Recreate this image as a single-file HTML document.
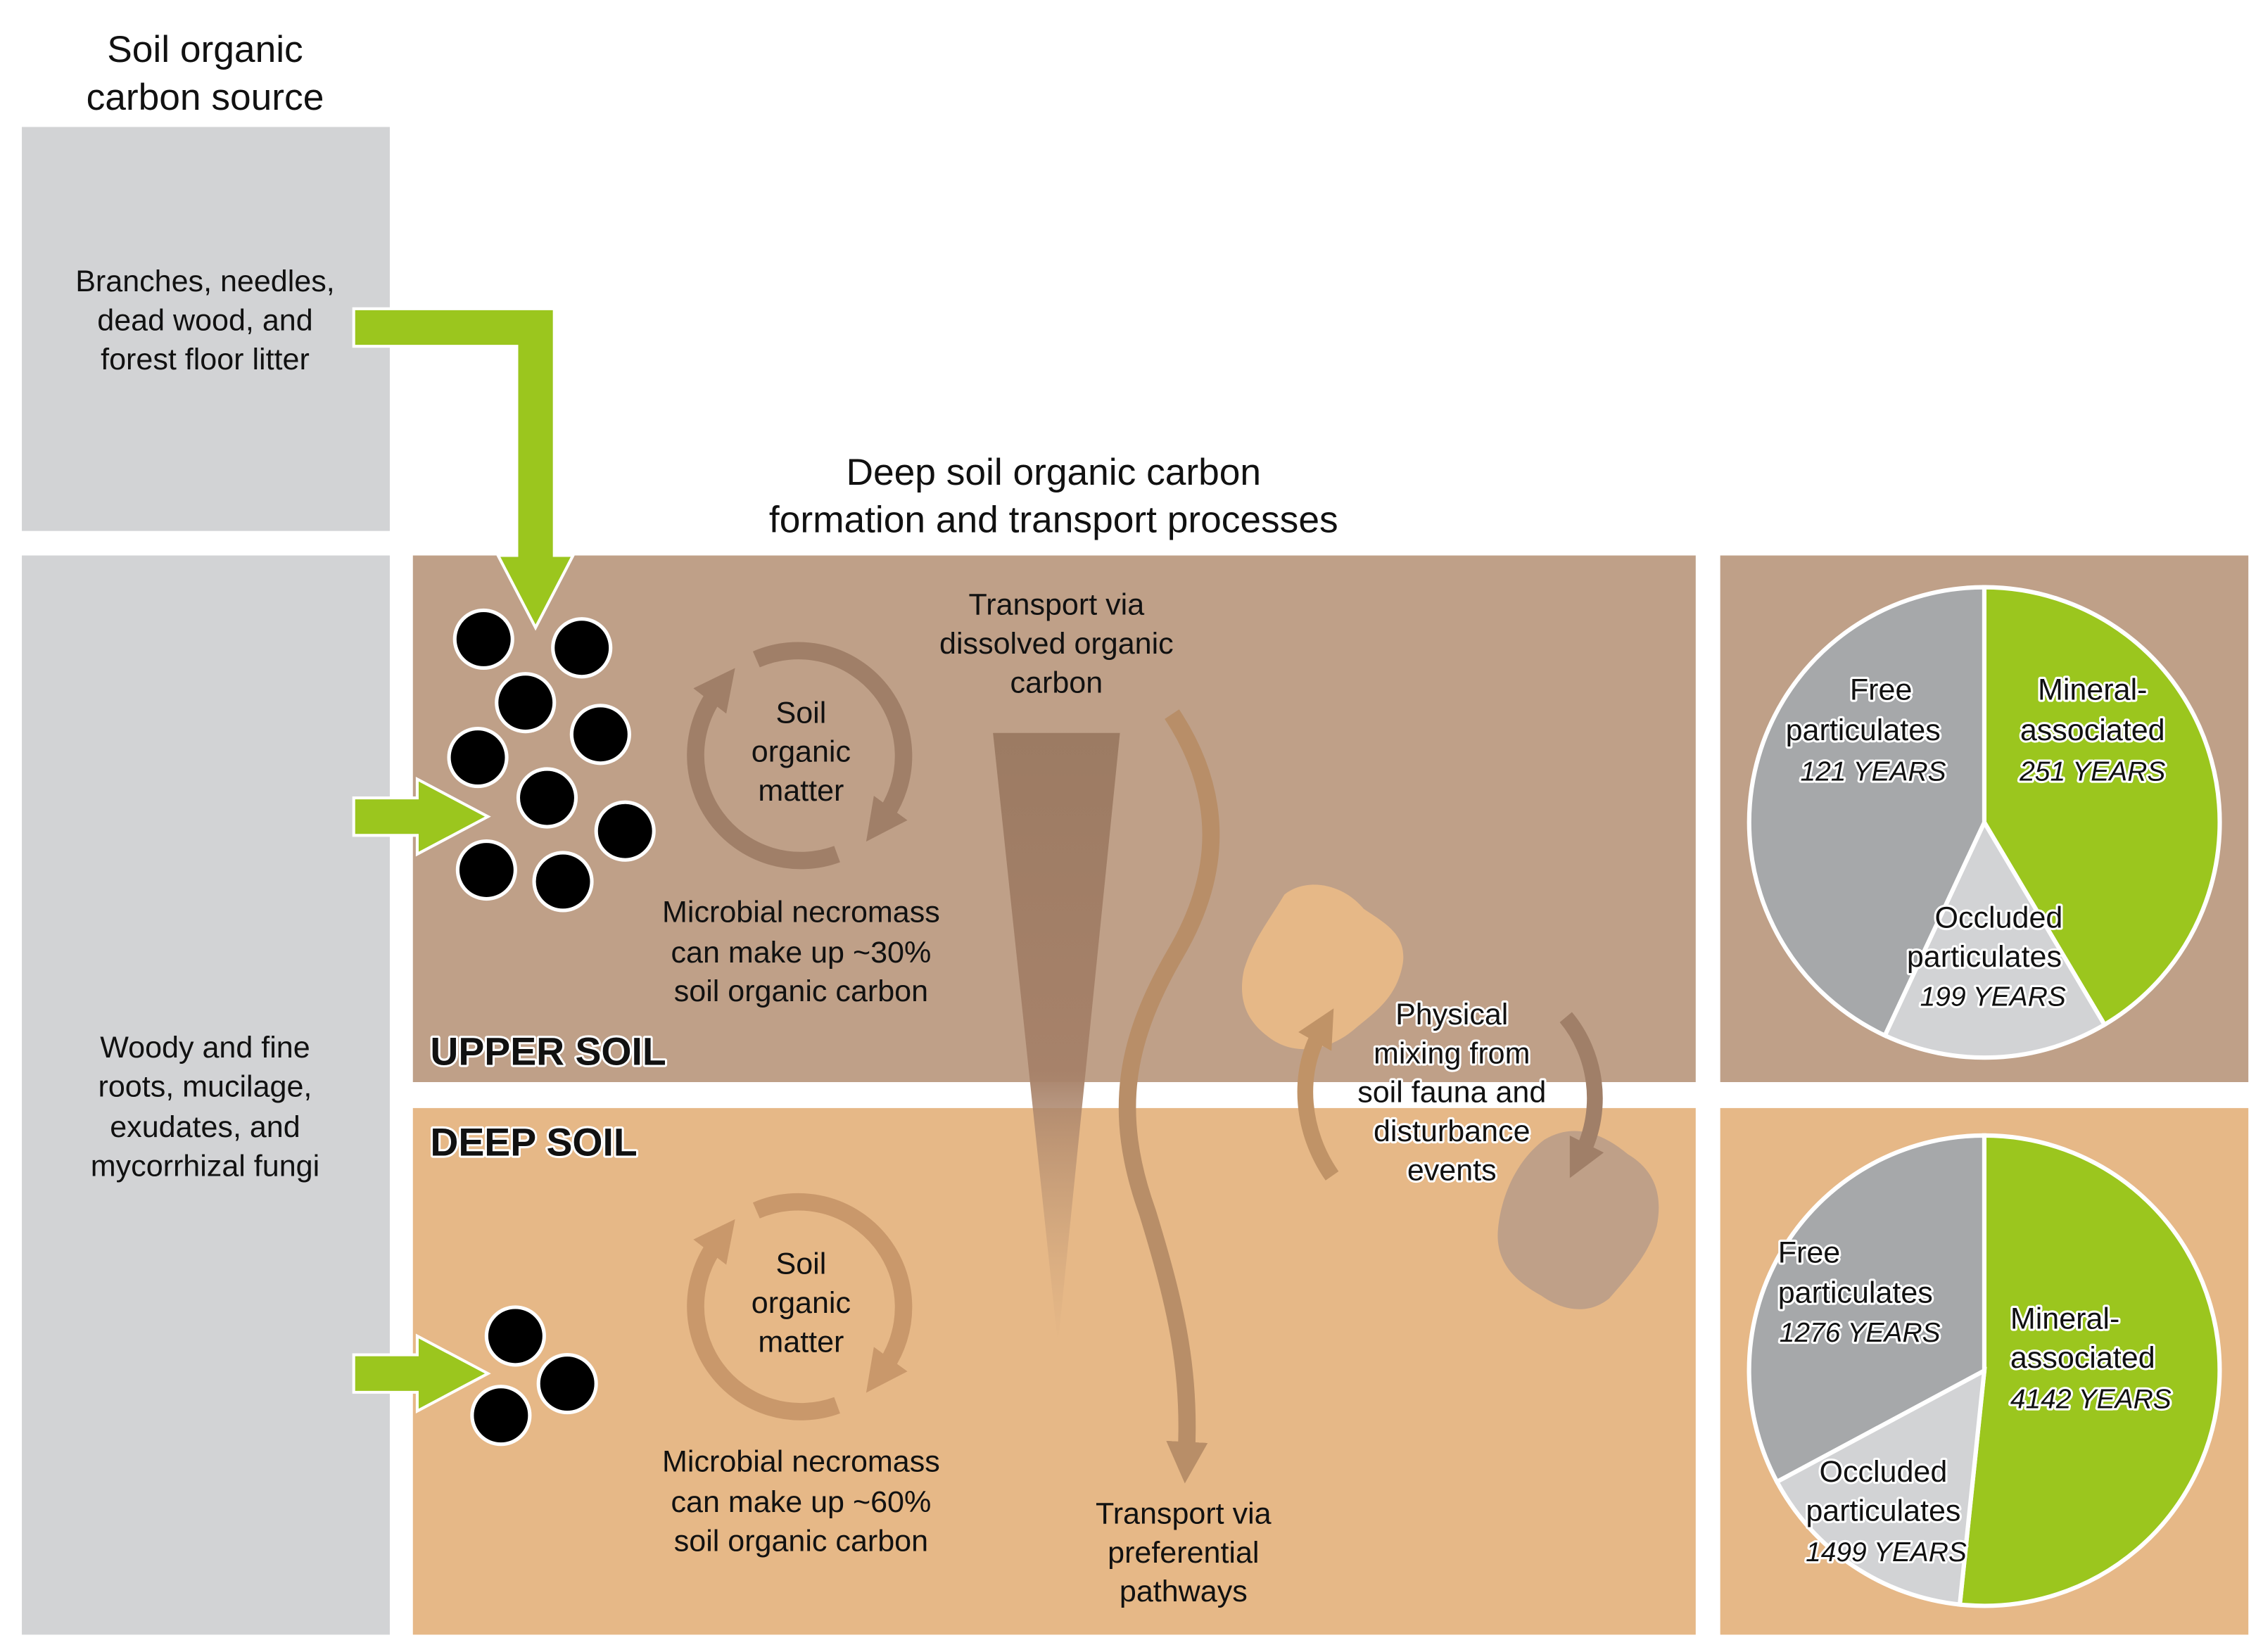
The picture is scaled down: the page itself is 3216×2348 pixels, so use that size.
<!DOCTYPE html>
<html><head><meta charset="utf-8"><style>
html,body{margin:0;padding:0;background:#fff}
svg{display:block}
text{font-family:"Liberation Sans",Arial,sans-serif}
.o{paint-order:stroke;stroke:#fff;stroke-width:3px;stroke-linejoin:round}
</style></head><body>
<svg width="3216" height="2348" viewBox="0 0 1568 1145" xmlns="http://www.w3.org/2000/svg">
<defs>
<marker id="mU" viewBox="0 0 10 10" refX="3" refY="5" markerWidth="2.4" markerHeight="2.4" orient="auto"><path d="M0,0 L10,5 L0,10 z" fill="#a07f68"/></marker>
<marker id="mD" viewBox="0 0 10 10" refX="3" refY="5" markerWidth="2.4" markerHeight="2.4" orient="auto"><path d="M0,0 L10,5 L0,10 z" fill="#c9986b"/></marker>
<marker id="mW" viewBox="0 0 10 10" refX="3" refY="5" markerWidth="2.4" markerHeight="2.4" orient="auto"><path d="M0,0 L10,5 L0,10 z" fill="#b88e68"/></marker>
<marker id="mL" viewBox="0 0 10 10" refX="3" refY="5" markerWidth="2.4" markerHeight="2.4" orient="auto"><path d="M0,0 L10,5 L0,10 z" fill="#c09367"/></marker>
<linearGradient id="fg" x1="0" y1="0" x2="0" y2="1">
<stop offset="0" stop-color="#9c7b63"/><stop offset="0.55" stop-color="#a7826a"/><stop offset="1" stop-color="#c9a07a" stop-opacity="0"/>
</linearGradient>
</defs>
<rect width="1568" height="1145" fill="#fff"/>
<!-- boxes -->
<rect x="15" y="88" width="255" height="280" fill="#d2d3d5"/>
<rect x="15" y="385" width="255" height="748" fill="#d2d3d5"/>
<rect x="286" y="385" width="889" height="365" fill="#bfa088"/>
<rect x="286" y="768" width="889" height="365" fill="#e6b887"/>
<rect x="1192" y="385" width="366" height="365" fill="#bfa088"/>
<rect x="1192" y="768" width="366" height="365" fill="#e6b887"/>
<!-- titles -->
<g font-size="26" text-anchor="middle" fill="#111">
<text x="142" y="43">Soil organic</text><text x="142" y="76">carbon source</text>
<text x="730" y="336">Deep soil organic carbon</text><text x="730" y="369">formation and transport processes</text>
</g>
<g font-size="21" text-anchor="middle" fill="#111">
<text x="142" y="202">Branches, needles,</text><text x="142" y="229">dead wood, and</text><text x="142" y="256">forest floor litter</text>
<text x="142" y="733">Woody and fine</text><text x="142" y="760">roots, mucilage,</text><text x="142" y="788">exudates, and</text><text x="142" y="815">mycorrhizal fungi</text>
</g>
<!-- green arrows -->
<path d="M245,214 L384,214 L384,385 L397,385 L371,435 L345,385 L358,385 L358,240 L245,240 Z" fill="#9bc61e" stroke="#fff" stroke-width="2"/>
<path d="M245,553 L289,553 L289,540 L338,566 L289,592 L289,579 L245,579 Z" fill="#9bc61e" stroke="#fff" stroke-width="2"/>
<path d="M245,939 L289,939 L289,926 L338,952 L289,978 L289,965 L245,965 Z" fill="#9bc61e" stroke="#fff" stroke-width="2"/>
<!-- circles -->
<g fill="#000" stroke="#fff" stroke-width="2.5">
<circle cx="335" cy="443" r="20"/><circle cx="403" cy="449" r="20"/><circle cx="364" cy="487" r="20"/>
<circle cx="416" cy="509" r="20"/><circle cx="331" cy="525" r="20"/><circle cx="379" cy="553" r="20"/>
<circle cx="433" cy="576" r="20"/><circle cx="337" cy="603" r="20"/><circle cx="390" cy="611" r="20"/>
<circle cx="357" cy="926" r="20"/><circle cx="393" cy="959" r="20"/><circle cx="347" cy="981" r="20"/>
</g>
<!-- cycles -->
<g fill="none" stroke-width="12">
<path d="M524,457 A73,73 0 0 1 612,567" stroke="#a07f68" marker-end="url(#mU)"/>
<path d="M580,592 A73,73 0 0 1 497,479" stroke="#a07f68" marker-end="url(#mU)"/>
<path d="M524,839 A73,73 0 0 1 612,949" stroke="#c9986b" marker-end="url(#mD)"/>
<path d="M580,974 A73,73 0 0 1 497,861" stroke="#c9986b" marker-end="url(#mD)"/>
</g>
<g font-size="21" text-anchor="middle" fill="#111">
<text x="555" y="501">Soil</text><text x="555" y="528">organic</text><text x="555" y="555">matter</text>
<text x="555" y="639">Microbial necromass</text><text x="555" y="667">can make up ~30%</text><text x="555" y="694">soil organic carbon</text>
<text x="555" y="883">Soil</text><text x="555" y="910">organic</text><text x="555" y="937">matter</text>
<text x="555" y="1020">Microbial necromass</text><text x="555" y="1048">can make up ~60%</text><text x="555" y="1075">soil organic carbon</text>
<text x="732" y="426">Transport via</text><text x="732" y="453">dissolved organic</text><text x="732" y="480">carbon</text>
<text x="820" y="1056">Transport via</text><text x="820" y="1083">preferential</text><text x="820" y="1110">pathways</text>
</g>
<g font-size="27" font-weight="bold" fill="#111" class="o">
<text x="298" y="738">UPPER SOIL</text><text x="298" y="801">DEEP SOIL</text>
</g>
<!-- funnel -->
<path d="M688,508 L776,508 L733,932 Z" fill="url(#fg)"/>
<!-- wavy -->
<path d="M812,495 C845,545 850,600 815,660 C780,720 770,770 795,840 C815,905 825,950 822,1008" fill="none" stroke="#b88e68" stroke-width="12" marker-end="url(#mW)"/>
<!-- blobs -->
<path d="M890,620 C905,608 930,612 945,630 C960,640 975,648 972,668 C968,690 955,700 940,712 C920,730 895,732 878,718 C862,706 858,690 862,672 C868,652 878,640 890,620 Z" fill="#e6b887"/>
<path d="M1070,790 C1090,778 1110,785 1128,800 C1148,812 1152,830 1148,850 C1142,870 1128,885 1115,900 C1100,912 1082,908 1068,898 C1050,888 1036,875 1038,852 C1040,830 1050,805 1070,790 Z" fill="#bfa088"/>
<!-- mixing arrows -->
<path d="M923,815 C902,785 898,745 915,715" fill="none" stroke="#c09367" stroke-width="11" marker-end="url(#mL)"/>
<path d="M1085,705 C1106,730 1112,768 1096,800" fill="none" stroke="#a07f68" stroke-width="11" marker-end="url(#mU)"/>
<g font-size="21" text-anchor="middle" fill="#111" class="o">
<text x="1006" y="710">Physical</text><text x="1006" y="737">mixing from</text><text x="1006" y="764">soil fauna and</text><text x="1006" y="791">disturbance</text><text x="1006" y="818">events</text>
</g>
<!-- pies -->
<g stroke="#fff" stroke-width="3">
<path d="M1375,570 L1375,407 A163,163 0 0 1 1458.3,710.2 Z" fill="#9bc61e"/>
<path d="M1375,570 L1458.3,710.2 A163,163 0 0 1 1306.1,717.7 Z" fill="#d2d3d5"/>
<path d="M1375,570 L1306.1,717.7 A163,163 0 0 1 1375,407 Z" fill="#a6a8aa"/>
<path d="M1375,950 L1375,787 A163,163 0 1 1 1358,1112.1 Z" fill="#9bc61e"/>
<path d="M1375,950 L1358,1112.1 A163,163 0 0 1 1231.3,1027 Z" fill="#d2d3d5"/>
<path d="M1375,950 L1231.3,1027 A163,163 0 0 1 1375,787 Z" fill="#a6a8aa"/>
</g>
<g font-size="21" fill="#111" class="o">
<g text-anchor="middle">
<text x="1325" y="485" text-anchor="end" x2="0">Free</text>
<text x="1291" y="513">particulates</text>
<text x="1298" y="541" font-style="italic" font-size="19">121 YEARS</text>
<text x="1450" y="485">Mineral-</text><text x="1450" y="513">associated</text>
<text x="1450" y="541" font-style="italic" font-size="19">251 YEARS</text>
<text x="1385" y="643">Occluded</text><text x="1375" y="670">particulates</text>
<text x="1381" y="697" font-style="italic" font-size="19">199 YEARS</text>
<text x="1305" y="1027">Occluded</text><text x="1305" y="1054">particulates</text>
<text x="1307" y="1082" font-style="italic" font-size="19">1499 YEARS</text>
</g>
<text x="1232" y="875">Free</text><text x="1232" y="903">particulates</text>
<text x="1233" y="930" font-style="italic" font-size="19">1276 YEARS</text>
<text x="1393" y="921">Mineral-</text><text x="1393" y="948">associated</text>
<text x="1393" y="976" font-style="italic" font-size="19">4142 YEARS</text>
</g>
</svg>
</body></html>
